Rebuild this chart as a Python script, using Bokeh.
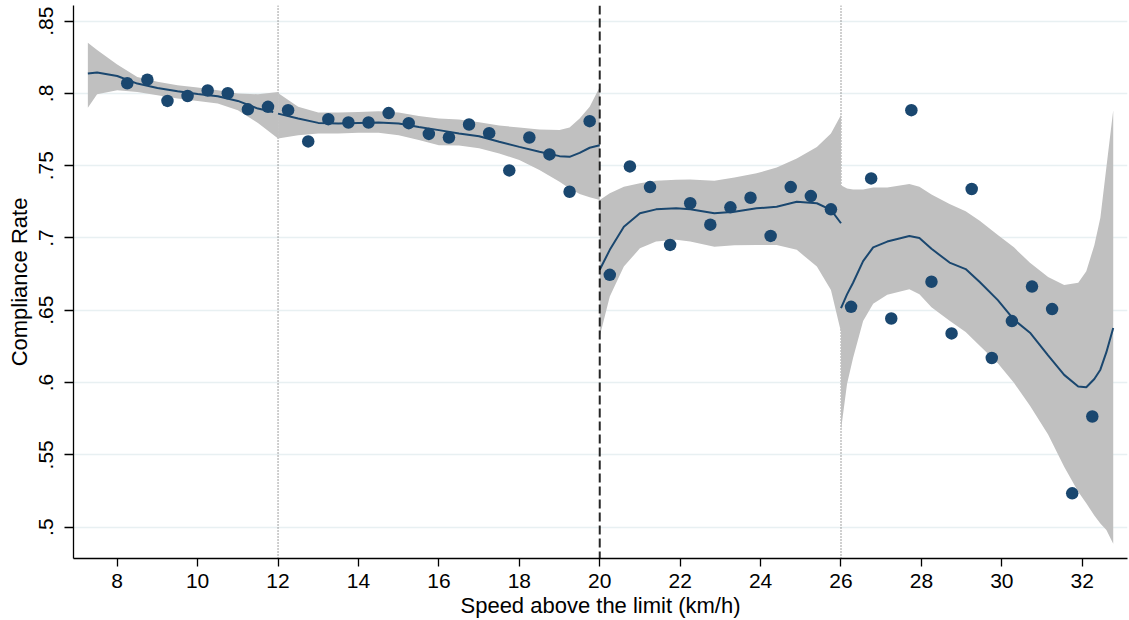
from bokeh.plotting import figure
from bokeh.models import Span, FixedTicker, Range1d
from bokeh.embed import file_html
from bokeh.resources import INLINE

# ---- data ----
speed = [8.25, 8.75, 9.25, 9.75, 10.25, 10.75, 11.25, 11.75, 12.25, 12.75,
         13.25, 13.75, 14.25, 14.75, 15.25, 15.75, 16.25, 16.75, 17.25, 17.75,
         18.25, 18.75, 19.25, 19.75, 20.25, 20.75, 21.25, 21.75, 22.25, 22.75,
         23.25, 23.75, 24.25, 24.75, 25.25, 25.75, 26.25, 26.75, 27.25, 27.75,
         28.25, 28.75, 29.25, 29.75, 30.25, 30.75, 31.25, 31.75, 32.25]
compliance = [0.807, 0.8095, 0.7948, 0.7982, 0.802, 0.8001, 0.789, 0.7907, 0.7884, 0.7668,
              0.7822, 0.7799, 0.7799, 0.7864, 0.7794, 0.772, 0.7695, 0.7785, 0.7725, 0.7467,
              0.7695, 0.7578, 0.732, 0.7808, 0.6745, 0.7495, 0.7352, 0.6952, 0.724, 0.7092,
              0.7212, 0.7278, 0.7014, 0.7352, 0.729, 0.7198, 0.6524, 0.7412, 0.6443, 0.7884,
              0.6697, 0.634, 0.7339, 0.617, 0.6425, 0.6664, 0.6508, 0.5234, 0.5765]

# segment 1: 7.27 - 12
seg1_x = [7.27, 7.5, 8.0, 8.5, 9.0, 9.5, 10.0, 10.5, 11.0, 11.5, 12.0]
seg1_hi = [0.835, 0.830, 0.820, 0.8114, 0.808, 0.8056, 0.804, 0.8022, 0.800, 0.7994, 0.801]
seg1_lo = [0.790, 0.7994, 0.8022, 0.801, 0.7987, 0.7964, 0.7948, 0.7930, 0.7884, 0.7796, 0.7688]
seg1_fit_x = [7.27, 7.5, 8.0, 8.5, 9.0, 9.5, 10.0, 10.5, 11.0, 11.5, 11.88]
seg1_fit = [0.8137, 0.8144, 0.812, 0.8068, 0.8038, 0.8015, 0.7996, 0.798, 0.7948, 0.7895, 0.7872]

# segment 2: 12 - 20
seg2_x = [12.0, 12.5, 13.0, 13.5, 14.0, 14.5, 15.0, 15.5, 16.0, 16.5, 17.0, 17.5, 18.0,
          18.5, 19.0, 19.25, 19.5, 19.75, 20.0]
seg2_hi = [0.8003, 0.7907, 0.7868, 0.7868, 0.7872, 0.7877, 0.7868, 0.7844, 0.7826, 0.782,
           0.7801, 0.7778, 0.7764, 0.775, 0.7746, 0.7764, 0.7826, 0.7907, 0.8045]
seg2_lo = [0.7688, 0.7711, 0.7723, 0.7723, 0.7727, 0.7727, 0.7711, 0.7677, 0.7642, 0.764,
           0.762, 0.7585, 0.7539, 0.747, 0.7389, 0.7343, 0.7304, 0.7281, 0.7263]
seg2_fit = [0.786, 0.7826, 0.7796, 0.7792, 0.7796, 0.7799, 0.7792, 0.7768, 0.7746, 0.7723,
            0.7704, 0.7665, 0.763, 0.7596, 0.7566, 0.7561, 0.7589, 0.7624, 0.7642]

# segment 3: 20 - 26
seg3_x = [20.0, 20.25, 20.6, 21.0, 21.4, 21.9, 22.25, 22.85, 23.35, 23.9, 24.4, 24.9,
          25.4, 25.75, 26.0]
seg3_hi = [0.7263, 0.731, 0.7354, 0.7378, 0.7396, 0.7402, 0.7405, 0.7396, 0.7419, 0.7447,
           0.7488, 0.755, 0.763, 0.7723, 0.785]
seg3_lo = [0.632, 0.6595, 0.6802, 0.6929, 0.6975, 0.6987, 0.6975, 0.694, 0.695, 0.6952,
           0.6952, 0.6918, 0.6802, 0.6641, 0.635]
seg3_fit = [0.678, 0.6918, 0.7078, 0.7171, 0.7198, 0.7205, 0.7198, 0.7171, 0.7182, 0.7205,
            0.7216, 0.7251, 0.724, 0.7194, 0.7102]

# segment 4: 26 - 32.77
seg4_x = [26.0, 26.15, 26.3, 26.55, 26.8, 27.15, 27.7, 27.95, 28.25, 28.7, 29.1, 29.45,
          29.9, 30.3, 30.7, 31.15, 31.55, 31.9, 32.1, 32.3, 32.45, 32.6, 32.77]
seg4_hi = [0.7365, 0.7343, 0.7335, 0.7335, 0.735, 0.735, 0.7373, 0.7355, 0.730, 0.7235,
           0.7185, 0.712, 0.702, 0.6935, 0.6828, 0.673, 0.6675, 0.669, 0.677, 0.695,
           0.714, 0.749, 0.7884]
seg4_lo = [0.5673, 0.599, 0.617, 0.6425, 0.6545, 0.6607, 0.6645, 0.661, 0.652, 0.6428,
           0.635, 0.6255, 0.6133, 0.5998, 0.584, 0.564, 0.5418, 0.5245, 0.5165, 0.508,
           0.5025, 0.498, 0.4885]
seg4_fit = [0.6515, 0.661, 0.669, 0.684, 0.6935, 0.6975, 0.7014, 0.700, 0.6925, 0.683,
            0.6785, 0.6695, 0.657, 0.6435, 0.6345, 0.6188, 0.6053, 0.5972, 0.5968, 0.6025,
            0.6089, 0.621, 0.6377]

dotted_cutoffs = [12, 26]
dashed_cutoff = 20

xticks = [8, 10, 12, 14, 16, 18, 20, 22, 24, 26, 28, 30, 32]
yticks = [0.5, 0.55, 0.6, 0.65, 0.7, 0.75, 0.8, 0.85]
ytick_labels = [".5", ".55", ".6", ".65", ".7", ".75", ".8", ".85"]

NAVY = "#1a476f"
BAND = "#c0c0c0"
FONT = "Liberation Sans"

p = figure(width=1129, height=620, output_backend="svg", toolbar_location=None,
           x_range=Range1d(6.913, 33.125), y_range=Range1d(0.4783, 0.8608),
           min_border_left=73, min_border_right=2, min_border_top=5, min_border_bottom=0)
p.outline_line_color = None
p.background_fill_color = "white"
p.border_fill_color = "white"

p.xgrid.visible = False
p.ygrid.ticker = FixedTicker(ticks=yticks)
p.ygrid.grid_line_color = "#e8f0f2"
p.ygrid.grid_line_width = 1.3

p.xaxis.ticker = FixedTicker(ticks=xticks)
p.yaxis.ticker = FixedTicker(ticks=yticks)
p.yaxis.major_label_overrides = {v: s for v, s in zip(yticks, ytick_labels)}
p.yaxis.major_label_orientation = "vertical"

for ax in (p.xaxis[0], p.yaxis[0]):
    ax.major_label_text_font = FONT
    ax.major_label_text_font_size = "21px"
    ax.major_label_text_color = "black"
    ax.axis_label_text_font = FONT
    ax.axis_label_text_font_size = "22px"
    ax.axis_label_text_font_style = "normal"
    ax.axis_label_text_color = "black"
    ax.axis_line_color = "black"
    ax.axis_line_width = 1.3
    ax.major_tick_line_color = "black"
    ax.major_tick_line_width = 1.3
    ax.minor_tick_line_color = None
    ax.major_tick_in = 0

p.xaxis.axis_label = "Speed above the limit (km/h)"
p.yaxis.axis_label = "Compliance Rate"
p.xaxis.major_tick_out = 8
p.yaxis.major_tick_out = 9
p.xaxis.major_label_standoff = 7
p.xaxis.axis_label_standoff = 2
p.yaxis.major_label_standoff = 11
p.yaxis.axis_label_standoff = 5

for c in dotted_cutoffs:
    p.add_layout(Span(location=c, dimension="height", line_color="#6e6e6e",
                      line_width=1.3, line_dash="1 2", level="underlay"))

segments = [(seg1_x, seg1_lo, seg1_hi, seg1_fit_x, seg1_fit),
            (seg2_x, seg2_lo, seg2_hi, seg2_x, seg2_fit),
            (seg3_x, seg3_lo, seg3_hi, seg3_x, seg3_fit),
            (seg4_x, seg4_lo, seg4_hi, seg4_x, seg4_fit)]
for bx, lo, hi, fx, fy in segments:
    p.varea(x=bx, y1=lo, y2=hi, fill_color=BAND, fill_alpha=1.0)
for bx, lo, hi, fx, fy in segments:
    p.line(x=fx, y=fy, line_color=NAVY, line_width=2)

p.scatter(x=speed, y=compliance, size=12.5, fill_color=NAVY, line_color=NAVY, line_width=0)

p.add_layout(Span(location=dashed_cutoff, dimension="height", line_color="black",
                  line_width=2, line_dash="9 4", line_alpha=0.85))

open("out.html", "w").write(file_html(p, INLINE))
